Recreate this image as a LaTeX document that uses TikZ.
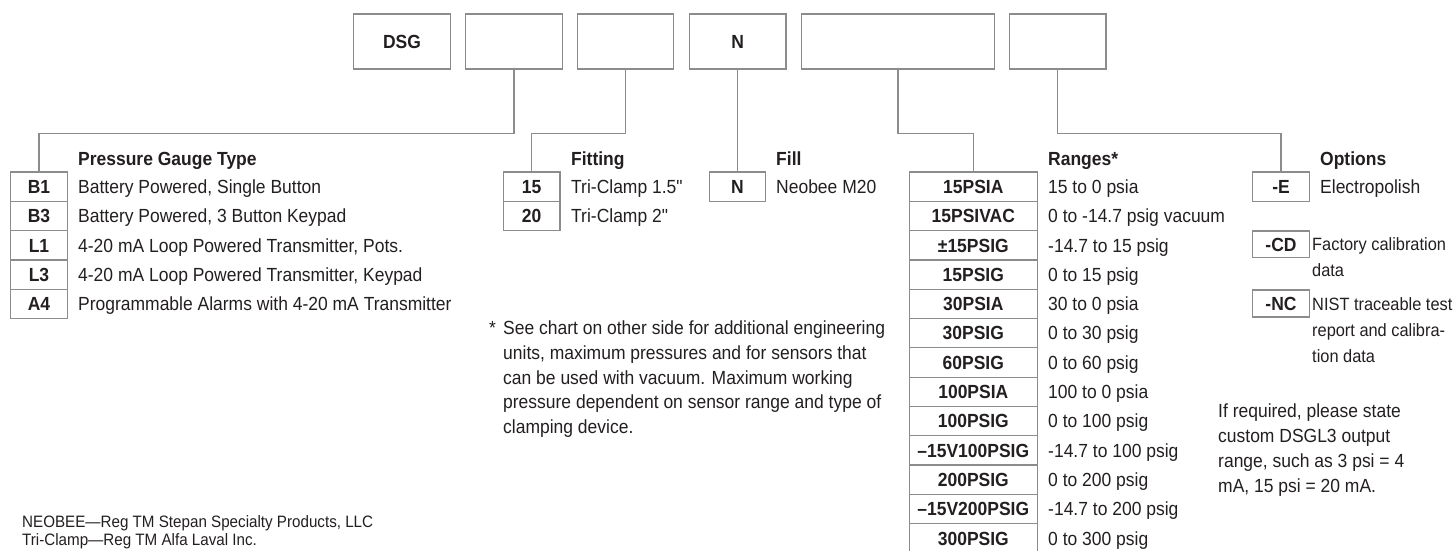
\documentclass[tikz,border=0pt]{standalone}
\usepackage{fontspec}
\setmainfont{Liberation Sans}[FakeStretch=0.92]
\newfontfamily\plainquote{Liberation Sans}[FakeStretch=0.92]
\newcommand{\inchmark}{{\plainquote\symbol{34}}}
\definecolor{ink}{HTML}{231F20}
\definecolor{linegray}{HTML}{8C8C8C}
\tikzset{
  conn/.style={draw=linegray,line width=1.2pt},
  codebox/.style={draw=linegray,line width=1.2pt,inner sep=0pt,text=ink,
    font=\fontsize{19}{23}\selectfont\bfseries,text height=13.6pt,text depth=0pt},
  topbox/.style={codebox,minimum width=96.5,minimum height=55},
  cell/.style={codebox,minimum width=56.6,minimum height=29.3},
  rcell/.style={codebox,minimum width=128,minimum height=29.3},
  desc/.style={anchor=base west,inner sep=0pt,text=ink,font=\fontsize{19}{23}\selectfont},
  optdesc/.style={desc,font=\fontsize{17.8}{22}\selectfont},
  head/.style={desc,font=\fontsize{19}{23}\selectfont\bfseries},
  small/.style={desc,font=\fontsize{16.5}{20}\selectfont},
}
\begin{document}
\begin{tikzpicture}[x=1pt,y=-1pt]
\useasboundingbox (0,0) rectangle (1453,550);
% top code boxes
\node[topbox] (tDSG) at (402,41.5) {DSG};
\node[topbox] (t2) at (514,41.5) {};
\node[topbox] (t3) at (625.6,41.5) {};
\node[topbox] (tN) at (737.7,41.5) {N};
\node[topbox,minimum width=193] (t5) at (897.9,41.5) {};
\node[topbox] (t6) at (1057.7,41.5) {};
% Pressure gauge type
\node[head] (hType) at (78,165.3) {Pressure Gauge Type};
\node[cell] (gB1) at (39,186.65) {B1};
\node[cell] (gB3) at (39,215.95) {B3};
\node[cell] (gL1) at (39,245.25) {L1};
\node[cell] (gL3) at (39,274.55) {L3};
\node[cell] (gA4) at (39,303.85) {A4};
\node[desc] (dB1) at (78,193.45) {Battery Powered, Single Button};
\node[desc] (dB3) at (78,222.75) {Battery Powered, 3 Button Keypad};
\node[desc] (dL1) at (78,252.05) {4-20 mA Loop Powered Transmitter, Pots.};
\node[desc] (dL3) at (78,281.35) {4-20 mA Loop Powered Transmitter, Keypad};
\node[desc] (dA4) at (78,310.65) {Programmable Alarms with 4-20 mA Transmitter};
% Fitting
\node[head] (hFit) at (571,165.3) {Fitting};
\node[cell] (f15) at (531.7,186.65) {15};
\node[cell] (f20) at (531.7,215.95) {20};
\node[desc] (df15) at (571,193.45) {Tri-Clamp 1.5\inchmark};
\node[desc] (df20) at (571,222.75) {Tri-Clamp 2\inchmark};
% Fill
\node[head] (hFill) at (776,165.3) {Fill};
\node[cell] (nN) at (737.5,186.65) {N};
\node[desc] (dnN) at (776,193.45) {Neobee M20};
% Ranges
\node[head] (hRng) at (1048,165.3) {Ranges*};
\node[rcell] (r1) at (973.3,186.65) {15PSIA};
\node[rcell] (r2) at (973.3,215.95) {15PSIVAC};
\node[rcell] (r3) at (973.3,245.25) {±15PSIG};
\node[rcell] (r4) at (973.3,274.55) {15PSIG};
\node[rcell] (r5) at (973.3,303.85) {30PSIA};
\node[rcell] (r6) at (973.3,333.15) {30PSIG};
\node[rcell] (r7) at (973.3,362.45) {60PSIG};
\node[rcell] (r8) at (973.3,391.75) {100PSIA};
\node[rcell] (r9) at (973.3,421.05) {100PSIG};
\node[rcell] (r10) at (973.3,450.35) {–15V100PSIG};
\node[rcell] (r11) at (973.3,479.65) {200PSIG};
\node[rcell] (r12) at (973.3,508.95) {–15V200PSIG};
\node[rcell] (r13) at (973.3,538.25) {300PSIG};
\node[desc] (dr1) at (1048,193.45) {15 to 0 psia};
\node[desc] (dr2) at (1048,222.75) {0 to -14.7 psig vacuum};
\node[desc] (dr3) at (1048,252.05) {-14.7 to 15 psig};
\node[desc] (dr4) at (1048,281.35) {0 to 15 psig};
\node[desc] (dr5) at (1048,310.65) {30 to 0 psia};
\node[desc] (dr6) at (1048,339.95) {0 to 30 psig};
\node[desc] (dr7) at (1048,369.25) {0 to 60 psig};
\node[desc] (dr8) at (1048,398.55) {100 to 0 psia};
\node[desc] (dr9) at (1048,427.85) {0 to 100 psig};
\node[desc] (dr10) at (1048,457.15) {-14.7 to 100 psig};
\node[desc] (dr11) at (1048,486.45) {0 to 200 psig};
\node[desc] (dr12) at (1048,515.75) {-14.7 to 200 psig};
\node[desc] (dr13) at (1048,545.05) {0 to 300 psig};
% Options
\node[head] (hOpt) at (1320,165.3) {Options};
\node[cell] (oE) at (1281,186.65) {-E};
\node[desc] (doE) at (1320,193.45) {Electropolish};
\node[cell,minimum height=26.5] (oCD) at (1281,244.2) {-CD};
\node[optdesc] (doCD1) at (1312,250.1) {Factory calibration};
\node[optdesc] (doCD2) at (1312,276.4) {data};
\node[cell,minimum height=27] (oNC) at (1281,303.5) {-NC};
\node[optdesc] (doNC1) at (1312,310.1) {NIST traceable test};
\node[optdesc] (doNC2) at (1312,336.1) {report and calibra-};
\node[optdesc] (doNC3) at (1312,362.1) {tion data};
% custom range note
\node[desc] (cr1) at (1218,417.8) {If required, please state};
\node[desc] (cr2) at (1218,442.8) {custom DSGL3 output};
\node[desc] (cr3) at (1218,467.8) {range, such as 3 psi = 4};
\node[desc] (cr4) at (1218,492.8) {mA, 15 psi = 20 mA.};
% footnote
\node[desc] (fnstar) at (489,334.8) {*};
\node[desc] (fn1) at (503,334.8) {See chart on other side for additional engineering};
\node[desc] (fn2) at (503,359.8) {units, maximum pressures and for sensors that};
\node[desc] (fn3) at (503,384.8) {can be used with vacuum. Maximum working};
\node[desc] (fn4) at (503,408.8) {pressure dependent on sensor range and type of};
\node[desc] (fn5) at (503,433.8) {clamping device.};
% trademarks
\node[small] (tm1) at (22,527.5) {NEOBEE—Reg TM Stepan Specialty Products, LLC};
\node[small] (tm2) at (22,545.5) {Tri-Clamp—Reg TM Alfa Laval Inc.};
% connectors
\draw[conn] (t2.south) -- ++(0,64) -| (gB1.north);
\draw[conn] (t3.south) -- ++(0,64) -| (f15.north);
\draw[conn] (tN.south) -- (tN.south |- nN.north);
\draw[conn] (t5.south) -- ++(0,64) -| (r1.north);
\draw[conn] (t6.south) -- ++(0,64) -| (oE.north);
\end{tikzpicture}
\end{document}
